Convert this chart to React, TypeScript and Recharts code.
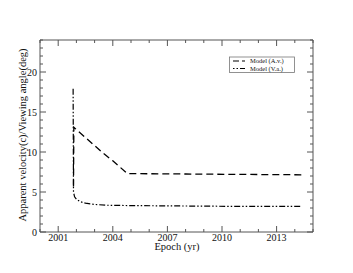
import { LineChart, Line, XAxis, YAxis } from 'recharts';

// Model (A.v.) - apparent velocity
const avYears = [2001.84, 2001.86, 2002.0, 2002.5, 2003.0, 2003.5, 2004.0, 2004.4, 2004.8, 2008.0, 2011.0, 2014.4];
const avValues = [5.7, 13.1, 12.8, 11.8, 10.8, 9.8, 8.9, 8.1, 7.3, 7.25, 7.2, 7.15];

// Model (V.a.) - viewing angle
const vaYears = [2001.82, 2001.84, 2001.9, 2002.0, 2002.2, 2002.5, 2003.0, 2003.6, 2005.0, 2008.0, 2011.0, 2014.4];
const vaValues = [17.9, 5.0, 4.4, 4.1, 3.8, 3.6, 3.45, 3.35, 3.3, 3.25, 3.2, 3.2];

const xMajor = [2001, 2004, 2007, 2010, 2013];
const xTicks = Array.from({ length: 16 }, (_, i) => 2000 + i);
const yMajor = [0, 5, 10, 15, 20];
const yTicks = Array.from({ length: 25 }, (_, i) => i);

const avData = avYears.map((x, i) => ({ x, y: avValues[i] }));
const vaData = vaYears.map((x, i) => ({ x, y: vaValues[i] }));

const FONT = '"Liberation Serif", "Times New Roman", serif';
const AXIS = '#555';
const txt = { fontFamily: FONT };

const BottomTick = (props: any) => {
  const { x, y, payload } = props;
  const major = xMajor.includes(payload.value);
  return (
    <g>
      <line x1={x} y1={y} x2={x} y2={y - (major ? 6 : 3)} stroke={AXIS} />
      {major && (
        <text x={x} y={y + 8.5} textAnchor="middle" fontSize={10} style={txt} fill="#111">
          {payload.value}
        </text>
      )}
    </g>
  );
};

const TopTick = (props: any) => {
  const { x, y, payload } = props;
  const major = xMajor.includes(payload.value);
  return <line x1={x} y1={y} x2={x} y2={y + (major ? 6 : 3)} stroke={AXIS} />;
};

const LeftTick = (props: any) => {
  const { x, y, payload } = props;
  const major = yMajor.includes(payload.value);
  return (
    <g>
      <line x1={x} y1={y} x2={x + (major ? 6 : 3)} y2={y} stroke={AXIS} />
      {major && (
        <text x={x - 3} y={y} dy="0.35em" textAnchor="end" fontSize={10} style={txt} fill="#111">
          {payload.value}
        </text>
      )}
    </g>
  );
};

const RightTick = (props: any) => {
  const { x, y, payload } = props;
  const major = yMajor.includes(payload.value);
  return <line x1={x} y1={y} x2={x - (major ? 6 : 3)} y2={y} stroke={AXIS} />;
};

export default function App() {
  return (
    <div style={{ position: 'absolute', left: 0, top: 0, width: 353, height: 273, background: '#fff' }}>
      <LineChart width={353} height={273} margin={{ top: 39, right: 39, bottom: 0, left: 0 }}>
        <XAxis
          dataKey="x"
          type="number"
          domain={[2000, 2015]}
          ticks={xTicks}
          interval={0}
          allowDataOverflow
          height={41}
          stroke={AXIS}
          tickLine={false}
          tickSize={0}
          tickMargin={0}
          tick={<BottomTick />}
        />
        <XAxis
          xAxisId="top"
          orientation="top"
          dataKey="x"
          type="number"
          domain={[2000, 2015]}
          ticks={xTicks}
          interval={0}
          allowDataOverflow
          height={1}
          stroke={AXIS}
          tickLine={false}
          tickSize={0}
          tickMargin={0}
          tick={<TopTick />}
        />
        <YAxis
          type="number"
          domain={[0, 24]}
          ticks={yTicks}
          interval={0}
          allowDataOverflow
          width={40}
          stroke={AXIS}
          tickLine={false}
          tickSize={0}
          tickMargin={0}
          tick={<LeftTick />}
        />
        <YAxis
          yAxisId="right"
          orientation="right"
          type="number"
          domain={[0, 24]}
          ticks={yTicks}
          interval={0}
          allowDataOverflow
          width={1}
          stroke={AXIS}
          tickLine={false}
          tickSize={0}
          tickMargin={0}
          tick={<RightTick />}
        />
        <Line
          data={avData}
          dataKey="y"
          type="linear"
          stroke="#000"
          strokeWidth={1.3}
          strokeDasharray="7 4"
          dot={false}
          isAnimationActive={false}
        />
        <Line
          data={vaData}
          dataKey="y"
          type="linear"
          stroke="#000"
          strokeWidth={1.2}
          strokeDasharray="6 2 1.5 2 1.5 2"
          dot={false}
          isAnimationActive={false}
        />
        <Line
          data={vaData}
          dataKey="y"
          xAxisId="top"
          yAxisId="right"
          stroke="none"
          dot={false}
          legendType="none"
          isAnimationActive={false}
        />
      </LineChart>
      <svg
        width={353}
        height={273}
        style={{ position: 'absolute', left: 0, top: 0, pointerEvents: 'none' }}
      >
        <text
          transform="translate(25.5,135) rotate(-90)"
          textAnchor="middle"
          fontSize={10.5}
          style={txt}
          fill="#111"
        >
          Apparent velocity(c)/Viewing angle(deg)
        </text>
        <text x={177} y={250} textAnchor="middle" fontSize={10.5} style={txt} fill="#111">
          Epoch (yr)
        </text>
        <rect x={229.5} y={57} width={65} height={15.5} fill="#fff" stroke="#777" strokeWidth={0.8} />
        <line x1={233} y1={61} x2={245} y2={61} stroke="#000" strokeWidth={1.2} strokeDasharray="6 3" />
        <line x1={233} y1={68.5} x2={245} y2={68.5} stroke="#000" strokeWidth={1.2} strokeDasharray="1.5 2 1.5 2 6 2" />
        <text x={250} y={63} fontSize={6.5} style={txt} fill="#111">
          Model (A.v.)
        </text>
        <text x={250} y={70.5} fontSize={6.5} style={txt} fill="#111">
          Model (V.a.)
        </text>
      </svg>
    </div>
  );
}
